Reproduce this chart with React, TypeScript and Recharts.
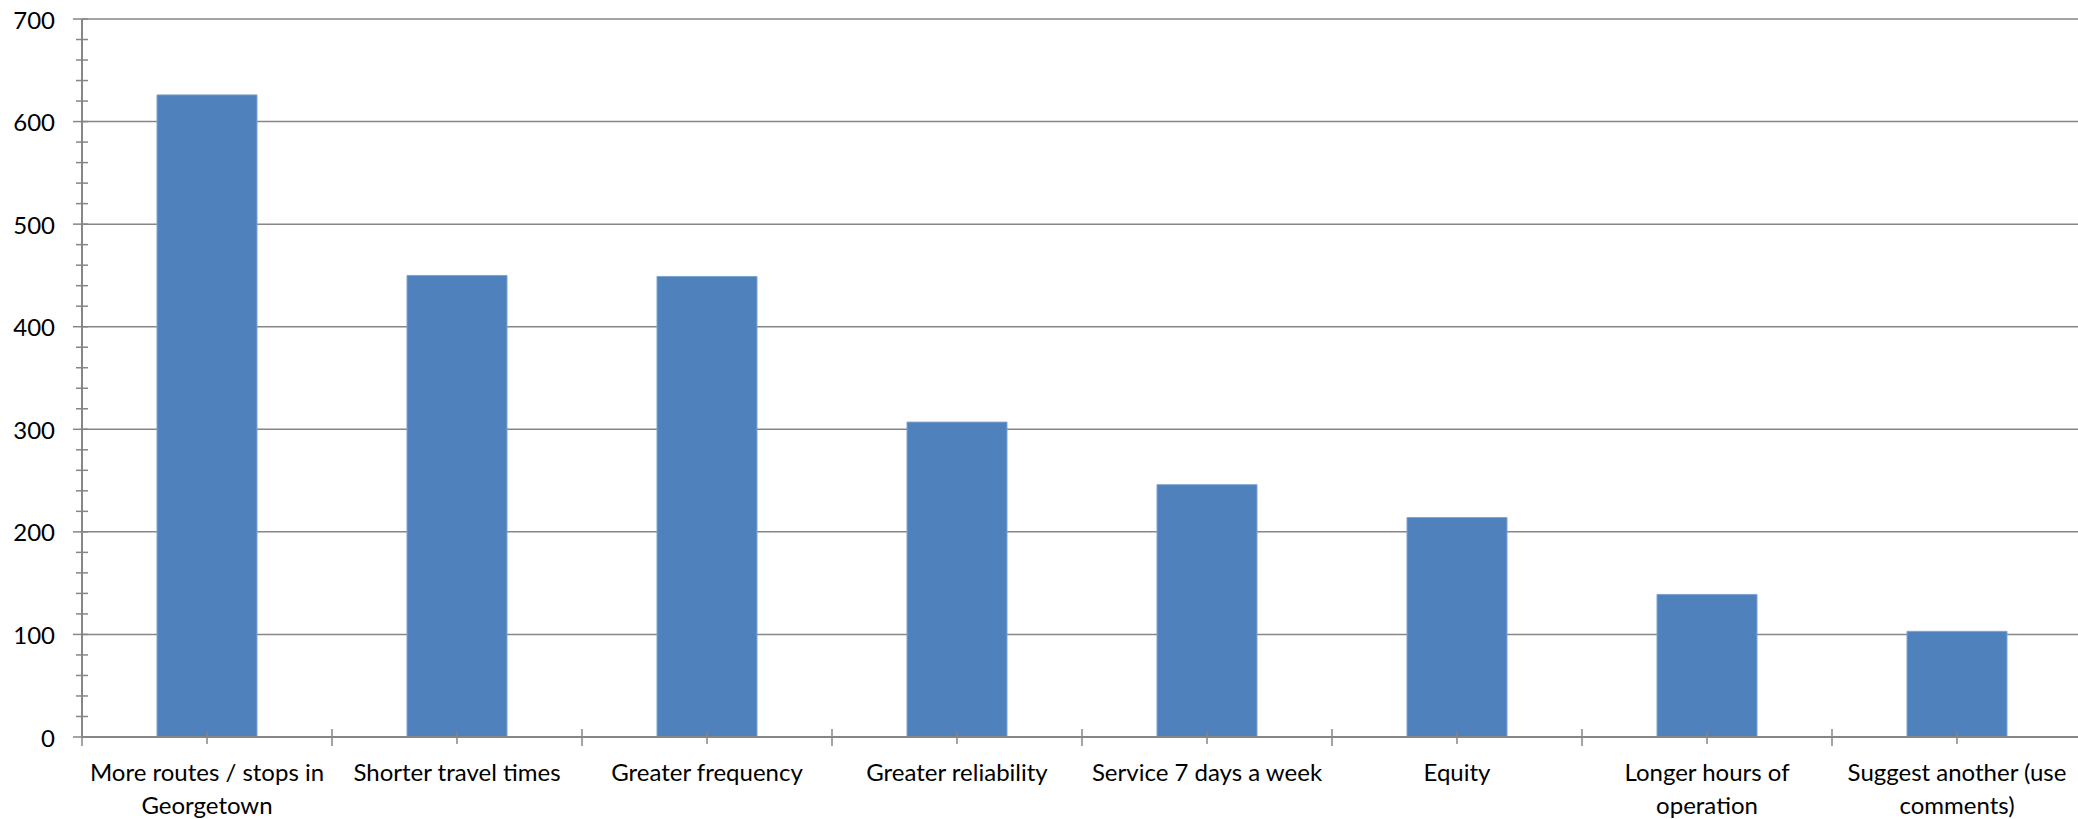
import { BarChart, Bar, XAxis, YAxis, CartesianGrid } from 'recharts';

const categories = [
  'More routes / stops in Georgetown',
  'Shorter travel times',
  'Greater frequency',
  'Greater reliability',
  'Service 7 days a week',
  'Equity',
  'Longer hours of operation',
  'Suggest another (use comments)',
];
// axis labels as they wrap in the picture
const tickLabels = [
  ['More routes / stops in', 'Georgetown'],
  ['Shorter travel times'],
  ['Greater frequency'],
  ['Greater reliability'],
  ['Service 7 days a week'],
  ['Equity'],
  ['Longer hours of', 'operation'],
  ['Suggest another (use', 'comments)'],
];
const responses = [626, 450, 449, 307, 246, 214, 139, 103];
const yTicks = [
  0, 20, 40, 60, 80, 100, 120, 140, 160, 180, 200, 220, 240, 260, 280, 300, 320, 340, 360, 380,
  400, 420, 440, 460, 480, 500, 520, 540, 560, 580, 600, 620, 640, 660, 680, 700,
];
const gridValues = [100, 200, 300, 400, 500, 600, 700];
const Y_MAX = 700;

const data = categories.map((name, i) => ({ name, value: responses[i] }));

const W = 2078;
const H = 819;
const CHART_W = 2082; // plot runs a little past the right edge in the original
const AXIS_W = 82;
const FONT = 'Lato, "Noto Sans", sans-serif';
const FONT_SIZE = 24;
const GREY = '#868686';
const BAND = (CHART_W - AXIS_W) / categories.length;

function YTick(props: any) {
  const { x, y, payload } = props;
  const major = payload.value % 100 === 0;
  return (
    <g>
      <line x1={major ? x - 9 : x - 6} x2={x + 6} y1={y} y2={y} stroke={GREY} strokeWidth={1.5} />
      {major && (
        <text x={x - 27} y={y} textAnchor="end" dominantBaseline="central" fontSize={FONT_SIZE} fontFamily={FONT} fill="#000">
          {payload.value}
        </text>
      )}
    </g>
  );
}

function XTick(props: any) {
  const { x, y, payload, index } = props;
  const left = x - BAND / 2;
  const lines = tickLabels[index] ?? [String(payload.value)];
  return (
    <g>
      <line x1={x} x2={x} y1={y - 5} y2={y + 7} stroke={GREY} strokeWidth={1.5} />
      <line x1={left} x2={left} y1={y - 8} y2={y + 9} stroke={GREY} strokeWidth={1.5} />
      {lines.map((t: string, i: number) => (
        <text
          key={i}
          x={x}
          y={y + 34 + i * 33}
          textAnchor="middle"
          dominantBaseline="central"
          fontSize={FONT_SIZE}
          fontFamily={FONT}
          fill="#000"
        >
          {t}
        </text>
      ))}
    </g>
  );
}

export default function App() {
  return (
    <div style={{ position: 'absolute', left: 0, top: 0, width: W, height: H, overflow: 'hidden', background: '#fff' }}>
      <BarChart
        width={CHART_W}
        height={H}
        data={data}
        margin={{ top: 19, right: 0, left: 0, bottom: 0 }}
        barCategoryGap="30%"
      >
        <CartesianGrid
          vertical={false}
          stroke={GREY}
          strokeWidth={1.5}
          horizontalCoordinatesGenerator={({ offset }: any) =>
            gridValues.map((v) => offset.top + offset.height * (1 - v / Y_MAX))
          }
        />
        <XAxis
          dataKey="name"
          height={82}
          interval={0}
          tickSize={0}
          tickMargin={0}
          tickLine={false}
          axisLine={{ stroke: GREY, strokeWidth: 2 }}
          tick={<XTick />}
        />
        <YAxis
          width={AXIS_W}
          domain={[0, Y_MAX]}
          ticks={yTicks}
          interval={0}
          tickSize={0}
          tickMargin={0}
          tickLine={false}
          axisLine={{ stroke: GREY, strokeWidth: 2 }}
          tick={<YTick />}
        />
        <Bar dataKey="value" fill="#4F81BD" stroke="#7EA3D2" strokeWidth={1} isAnimationActive={false} />
      </BarChart>
    </div>
  );
}
